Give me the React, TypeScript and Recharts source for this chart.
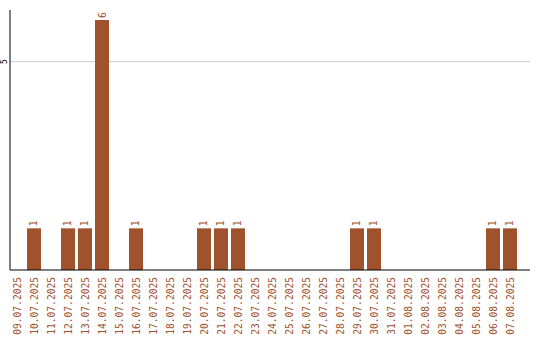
import React from 'react';
import { BarChart, Bar, XAxis, YAxis, ReferenceLine, LabelList } from 'recharts';

const dates = [
  '09.07.2025', '10.07.2025', '11.07.2025', '12.07.2025', '13.07.2025', '14.07.2025',
  '15.07.2025', '16.07.2025', '17.07.2025', '18.07.2025', '19.07.2025', '20.07.2025',
  '21.07.2025', '22.07.2025', '23.07.2025', '24.07.2025', '25.07.2025', '26.07.2025',
  '27.07.2025', '28.07.2025', '29.07.2025', '30.07.2025', '31.07.2025', '01.08.2025',
  '02.08.2025', '03.08.2025', '04.08.2025', '05.08.2025', '06.08.2025', '07.08.2025',
];
const counts = [
  0, 1, 0, 1, 1, 6,
  0, 1, 0, 0, 0, 1,
  1, 1, 0, 0, 0, 0,
  0, 0, 1, 1, 0, 0,
  0, 0, 0, 0, 1, 1,
];
const yTicks = [5];
const gridValue = 5;

const data = dates.map((d, i) => ({ date: d, count: counts[i] }));

const BAR = '#a0522d';
const FONT = '"DejaVu Sans Mono", monospace';

const XTick = (props: any) => {
  const { x, payload } = props;
  const y = 277;
  return (
    <text
      x={x}
      y={y}
      transform={`rotate(-90, ${x}, ${y})`}
      textAnchor="end"
      dominantBaseline="central"
      fontFamily={FONT}
      fontSize={9.6}
      fill={BAR}
    >
      {payload.value}
    </text>
  );
};

const YTick = (props: any) => {
  const { y, payload } = props;
  return (
    <text
      x={5}
      y={y}
      transform={`rotate(-90, 5, ${y})`}
      textAnchor="middle"
      dominantBaseline="central"
      fontFamily={FONT}
      fontSize={8}
      fill="#000"
    >
      {payload.value}
    </text>
  );
};

const ValueLabel = (props: any) => {
  const { x, y, width, value } = props;
  if (!value) return null;
  const cx = x + width / 2;
  const ty = y - 2;
  return (
    <text
      x={cx}
      y={ty}
      transform={`rotate(-90, ${cx}, ${ty})`}
      textAnchor="start"
      dominantBaseline="central"
      fontFamily={FONT}
      fontSize={9.6}
      fill={BAR}
    >
      {value}
    </text>
  );
};

export default function App() {
  const refLineProps: any = { zIndex: -50 };
  return (
    <div style={{ position: 'absolute', left: 0, top: 0, width: 540, height: 340, background: '#fff' }}>
      <BarChart
        width={540}
        height={340}
        data={data}
        margin={{ top: 10, right: 10, bottom: 0, left: 0 }}
        barCategoryGap={1.5}
      >
        {/* the single horizontal rule at y = 5, kept beneath the bars */}
        <ReferenceLine y={gridValue} stroke="#cccccc" {...refLineProps} />
        <XAxis
          dataKey="date"
          interval={0}
          height={70}
          padding={{ left: -1.5, right: 11.5 }}
          tickLine={false}
          axisLine={{ stroke: '#000' }}
          tick={<XTick />}
        />
        <YAxis
          width={10}
          domain={[0, 6]}
          ticks={yTicks}
          padding={{ top: 10, bottom: 0 }}
          tickLine={false}
          axisLine={{ stroke: '#000' }}
          tick={<YTick />}
        />
        <Bar dataKey="count" fill={BAR} isAnimationActive={false}>
          <LabelList dataKey="count" content={<ValueLabel />} />
        </Bar>
      </BarChart>
    </div>
  );
}
